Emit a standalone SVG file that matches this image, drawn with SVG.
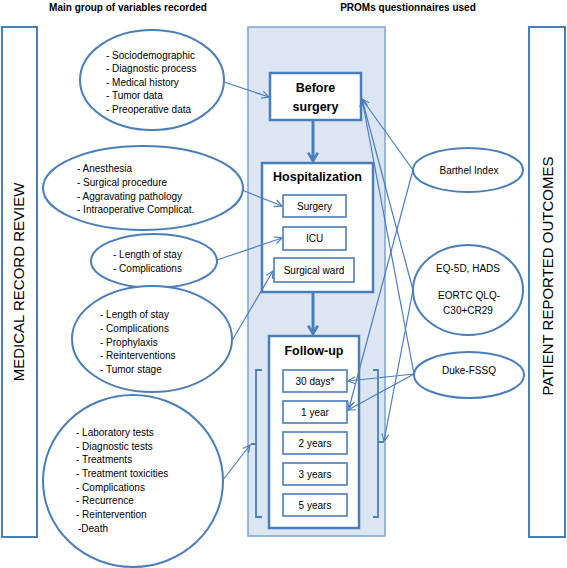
<svg xmlns="http://www.w3.org/2000/svg" width="567" height="568" viewBox="0 0 567 568">
<defs>
<style>
text{font-family:"Liberation Sans",Arial,sans-serif;fill:#000}
.hdr{font-size:10px;font-weight:bold}
.lst{font-size:10px}
.ttl{font-size:12.5px;font-weight:bold;text-anchor:middle}
.sub{font-size:10px;text-anchor:middle}
.vert{font-size:15px;text-anchor:middle}
.ell{fill:#fff;stroke:#4a7ebb;stroke-width:2}
.main{fill:#fff;stroke:#4a7ebb;stroke-width:2.5}
.sbox{fill:#fff;stroke:#4a7ebb;stroke-width:1.6}
.side{fill:#fff;stroke:#4a7ebb;stroke-width:2}
.con{fill:none;stroke:#4a7ebb;stroke-width:1.2;marker-end:url(#open)}
.thick{fill:none;stroke:#4a7ebb;stroke-width:3;marker-end:url(#thickhead)}
.brk{fill:none;stroke:#4a7ebb;stroke-width:1.8}
</style>
<marker id="open" viewBox="0 0 10 10" refX="9" refY="5" markerWidth="9" markerHeight="9" markerUnits="userSpaceOnUse" orient="auto">
<path d="M1,1 L9,5 L1,9" fill="none" stroke="#4a7ebb" stroke-width="1.3"/>
</marker>
<marker id="thickhead" viewBox="0 0 10 10" refX="8" refY="5" markerWidth="12" markerHeight="12" markerUnits="userSpaceOnUse" orient="auto">
<path d="M1,1 L8,5 L1,9" fill="none" stroke="#4a7ebb" stroke-width="2.2"/>
</marker>
</defs>
<rect width="567" height="568" fill="#fff"/>

<text class="hdr" x="128" y="11" text-anchor="middle">Main group of variables recorded</text>
<text class="hdr" x="408" y="11" text-anchor="middle">PROMs questionnaires used</text>

<g id="medical-record-review">
<rect class="side" x="2" y="27" width="35" height="510"/>
<text class="vert" transform="translate(24,282) rotate(-90)">MEDICAL RECORD REVIEW</text>
</g>
<g id="patient-reported-outcomes">
<rect class="side" x="529" y="27" width="36" height="510"/>
<text class="vert" transform="translate(553,276) rotate(-90)">PATIENT REPORTED OUTCOMES</text>
</g>

<g id="timeline-panel">
<rect x="248" y="27" width="137" height="509" fill="#dce6f2" stroke="#7ea3d6" stroke-width="1.5"/>
</g>

<g id="before-surgery">
<rect class="main" x="270" y="73" width="91" height="47"/>
<text class="ttl" x="315.5" y="92">Before</text>
<text class="ttl" x="315.5" y="111">surgery</text>
</g>

<g id="hospitalization">
<rect class="main" x="262" y="163" width="111" height="129"/>
<text class="ttl" x="317.5" y="181">Hospitalization</text>
</g>
<g id="surgery">
<rect class="sbox" x="283" y="195" width="63" height="22"/>
<text class="sub" x="314.5" y="210">Surgery</text>
</g>
<g id="icu">
<rect class="sbox" x="283" y="227" width="63" height="23"/>
<text class="sub" x="314.5" y="242">ICU</text>
</g>
<g id="surgical-ward">
<rect class="sbox" x="274" y="258" width="80" height="24"/>
<text class="sub" x="314" y="274">Surgical ward</text>
</g>

<g id="follow-up">
<rect class="main" x="269" y="336" width="90" height="192"/>
<text class="ttl" x="314" y="355">Follow-up</text>
</g>
<g id="fu-30days">
<rect class="sbox" x="283" y="370" width="64" height="22"/>
<text class="sub" x="315" y="385">30 days*</text>
</g>
<g id="fu-1year">
<rect class="sbox" x="283" y="401" width="64" height="22"/>
<text class="sub" x="315" y="416">1 year</text>
</g>
<g id="fu-2years">
<rect class="sbox" x="283" y="432" width="64" height="22"/>
<text class="sub" x="315" y="447">2 years</text>
</g>
<g id="fu-3years">
<rect class="sbox" x="283" y="463" width="64" height="22"/>
<text class="sub" x="315" y="478">3 years</text>
</g>
<g id="fu-5years">
<rect class="sbox" x="283" y="494" width="64" height="22"/>
<text class="sub" x="315" y="509">5 years</text>
</g>

<g id="brackets">
<path class="brk" d="M262,370 H256 V517 H262 M256,444 H251"/>
<path class="brk" d="M373,370 H378 V517 H373 M378,442 H384"/>
</g>

<g id="e-preop">
<ellipse class="ell" cx="152" cy="80" rx="72" ry="50"/>
<text class="lst" x="106" y="58.5">- Sociodemographic</text>
<text class="lst" x="106" y="72">- Diagnostic process</text>
<text class="lst" x="106" y="85.5">- Medical history</text>
<text class="lst" x="106" y="99">- Tumor data</text>
<text class="lst" x="106" y="112.5">- Preoperative data</text>
</g>
<g id="e-surgery">
<ellipse class="ell" cx="143" cy="188" rx="100" ry="42"/>
<text class="lst" x="77" y="171.5">- Anesthesia</text>
<text class="lst" x="77" y="185.5">- Surgical procedure</text>
<text class="lst" x="77" y="199.5">- Aggravating pathology</text>
<text class="lst" x="77" y="213">- Intraoperative Complicat.</text>
</g>
<g id="e-icu">
<ellipse class="ell" cx="154" cy="261" rx="63" ry="27"/>
<text class="lst" x="113" y="257.5">- Length of stay</text>
<text class="lst" x="113" y="271.5">- Complications</text>
</g>
<g id="e-ward">
<ellipse class="ell" cx="152" cy="339" rx="80" ry="53"/>
<text class="lst" x="100" y="317.5">- Length of stay</text>
<text class="lst" x="100" y="331.5">- Complications</text>
<text class="lst" x="100" y="345.5">- Prophylaxis</text>
<text class="lst" x="100" y="358.5">- Reinterventions</text>
<text class="lst" x="100" y="372.5">- Tumor stage</text>
</g>
<g id="e-followup">
<ellipse class="ell" cx="133" cy="481" rx="90" ry="86"/>
<text class="lst" x="76" y="435.5">- Laboratory tests</text>
<text class="lst" x="76" y="449.5">- Diagnostic tests</text>
<text class="lst" x="76" y="462.5">- Treatments</text>
<text class="lst" x="76" y="476.5">- Treatment toxicities</text>
<text class="lst" x="76" y="490.5">- Complications</text>
<text class="lst" x="76" y="503.5">- Recurrence</text>
<text class="lst" x="76" y="517.5">- Reintervention</text>
<text class="lst" x="78" y="531.5">-Death</text>
</g>

<g id="e-barthel">
<ellipse class="ell" cx="468" cy="170" rx="55" ry="22"/>
<text class="sub" x="469" y="173.5">Barthel Index</text>
</g>
<g id="e-eq5d">
<ellipse class="ell" cx="468" cy="290" rx="55" ry="45"/>
<text class="sub" x="468" y="271.5">EQ-5D, HADS</text>
<text class="sub" x="469" y="298.5">EORTC QLQ-</text>
<text class="sub" x="468" y="313.5">C30+CR29</text>
</g>
<g id="e-duke">
<ellipse class="ell" cx="469" cy="375" rx="55" ry="23"/>
<text class="sub" x="469" y="373.5">Duke-FSSQ</text>
</g>

<g id="connectors">
<line class="thick" x1="313" y1="120" x2="313" y2="161"/>
<line class="thick" x1="313" y1="292" x2="313" y2="334"/>
<line class="con" x1="224" y1="82" x2="269" y2="97"/>
<line class="con" x1="242" y1="190" x2="282" y2="206"/>
<line class="con" x1="217" y1="260" x2="282" y2="238"/>
<line class="con" x1="233" y1="339" x2="273" y2="271"/>
<line class="con" x1="223" y1="480" x2="250" y2="445"/>
<line class="con" x1="413" y1="170" x2="362" y2="99"/>
<line class="con" x1="413" y1="170" x2="349" y2="408"/>
<line class="con" x1="413" y1="290" x2="362" y2="99"/>
<line class="con" x1="413" y1="290" x2="384" y2="441"/>
<line class="con" x1="414" y1="374" x2="362" y2="99"/>
<line class="con" x1="414" y1="374" x2="348" y2="381"/>
<line class="con" x1="414" y1="374" x2="348" y2="410"/>
</g>
</svg>
